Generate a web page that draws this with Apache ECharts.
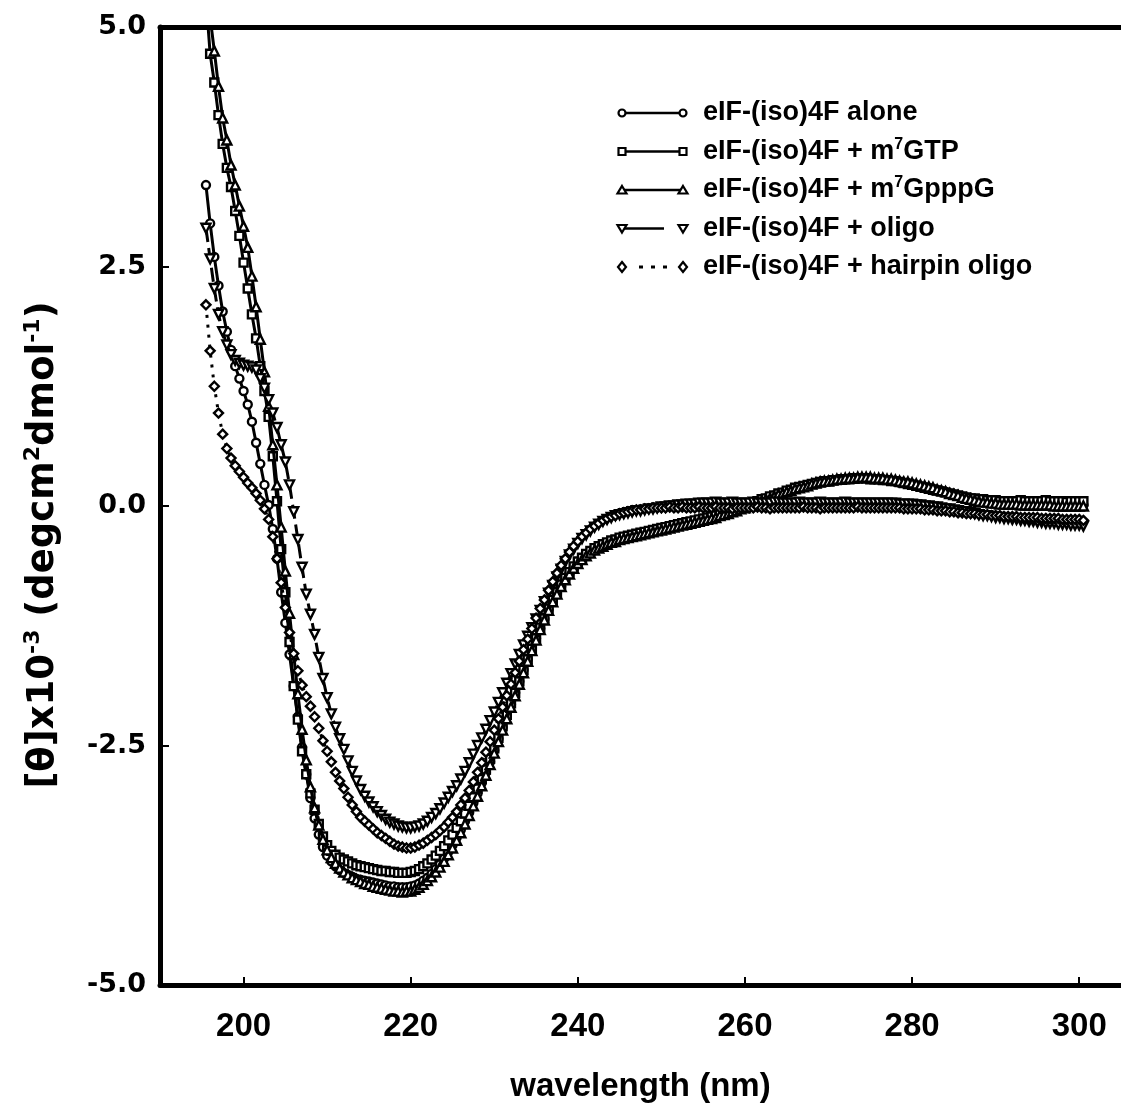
<!DOCTYPE html>
<html><head><meta charset="utf-8">
<script src="https://cdn.jsdelivr.net/npm/echarts@6/dist/echarts.min.js"></script>
<style>html,body{margin:0;padding:0;background:#fff}#chart{width:1121px;height:1118px}</style>
</head><body><div id="chart"></div>
<script>
// wavelength grid of the recorded spectra (nm)
const START_NM = 195.5, STEP_NM = 0.5;
const xTickValues = [200, 220, 240, 260, 280, 300];
const yTickValues = [-5, -2.5, 0, 2.5, 5];
const seriesNames = [
  'eIF-(iso)4F alone',
  'eIF-(iso)4F + m7GTP',
  'eIF-(iso)4F + m7GpppG',
  'eIF-(iso)4F + oligo',
  'eIF-(iso)4F + hairpin oligo'
];
// [θ]x10^-3 values, 195.5 .. 300.5 nm every 0.5 nm
const alone = [
 3.35,2.95,2.6,2.3,2.03,1.82,1.63,1.46,1.33,1.2,
 1.06,0.88,0.66,0.44,0.22,0.01,-0.24,-0.55,-0.9,-1.22,
 -1.55,-1.88,-2.2,-2.52,-2.8,-3.05,-3.26,-3.43,-3.56,-3.65,
 -3.71,-3.76,-3.8,-3.83,-3.85,-3.87,-3.89,-3.9,-3.91,-3.92,
 -3.93,-3.94,-3.95,-3.96,-3.97,-3.97,-3.98,-3.98,-3.98,-3.97,
 -3.96,-3.94,-3.91,-3.88,-3.84,-3.79,-3.74,-3.68,-3.61,-3.54,
 -3.46,-3.38,-3.29,-3.2,-3.1,-3.0,-2.89,-2.78,-2.67,-2.55,
 -2.43,-2.31,-2.19,-2.07,-1.95,-1.83,-1.71,-1.6,-1.49,-1.38,
 -1.28,-1.18,-1.08,-0.99,-0.91,-0.84,-0.77,-0.71,-0.65,-0.6,
 -0.56,-0.52,-0.48,-0.45,-0.43,-0.41,-0.39,-0.37,-0.36,-0.34,
 -0.33,-0.32,-0.31,-0.3,-0.29,-0.28,-0.27,-0.26,-0.25,-0.24,
 -0.23,-0.22,-0.21,-0.2,-0.19,-0.18,-0.17,-0.16,-0.15,-0.14,
 -0.13,-0.12,-0.11,-0.09,-0.08,-0.07,-0.05,-0.04,-0.02,-0.01,
 0.01,0.03,0.04,0.06,0.08,0.09,0.11,0.12,0.14,0.15,
 0.17,0.18,0.19,0.2,0.22,0.23,0.24,0.25,0.25,0.26,
 0.27,0.27,0.28,0.28,0.29,0.29,0.29,0.29,0.29,0.29,
 0.28,0.28,0.28,0.27,0.27,0.26,0.25,0.24,0.24,0.23,
 0.22,0.21,0.2,0.19,0.18,0.17,0.16,0.15,0.13,0.12,
 0.11,0.1,0.09,0.08,0.07,0.06,0.05,0.05,0.04,0.04,
 0.03,0.03,0.03,0.03,0.02,0.02,0.02,0.02,0.02,0.02,
 0.02,0.02,0.02,0.02,0.01,0.01,0.01,0.01,0.01,0.01,
 0.01
];
const m7GTP = [
 5.3,4.72,4.42,4.08,3.78,3.53,3.33,3.08,2.82,2.54,
 2.27,2.0,1.75,1.46,1.2,0.93,0.52,0.05,-0.45,-0.9,
 -1.42,-1.88,-2.23,-2.56,-2.8,-3.0,-3.17,-3.32,-3.45,-3.54,
 -3.6,-3.64,-3.67,-3.69,-3.71,-3.73,-3.75,-3.76,-3.77,-3.78,
 -3.79,-3.8,-3.81,-3.81,-3.82,-3.82,-3.83,-3.83,-3.83,-3.82,
 -3.81,-3.79,-3.76,-3.73,-3.69,-3.65,-3.6,-3.55,-3.49,-3.43,
 -3.36,-3.29,-3.21,-3.13,-3.04,-2.95,-2.85,-2.75,-2.64,-2.53,
 -2.42,-2.3,-2.18,-2.06,-1.95,-1.83,-1.71,-1.6,-1.49,-1.38,
 -1.27,-1.17,-1.07,-0.98,-0.9,-0.82,-0.75,-0.69,-0.63,-0.58,
 -0.54,-0.5,-0.47,-0.44,-0.42,-0.4,-0.38,-0.36,-0.35,-0.33,
 -0.32,-0.31,-0.3,-0.29,-0.28,-0.27,-0.26,-0.25,-0.24,-0.23,
 -0.22,-0.21,-0.2,-0.19,-0.18,-0.17,-0.16,-0.15,-0.14,-0.13,
 -0.12,-0.11,-0.1,-0.08,-0.07,-0.06,-0.04,-0.03,-0.01,0.0,
 0.02,0.04,0.05,0.07,0.08,0.1,0.11,0.13,0.14,0.16,
 0.17,0.19,0.2,0.21,0.22,0.23,0.24,0.25,0.26,0.26,
 0.27,0.27,0.28,0.28,0.28,0.29,0.29,0.29,0.29,0.28,
 0.28,0.28,0.27,0.27,0.26,0.26,0.25,0.24,0.23,0.22,
 0.21,0.2,0.19,0.18,0.17,0.16,0.15,0.14,0.13,0.12,
 0.11,0.1,0.09,0.08,0.08,0.07,0.07,0.06,0.06,0.06,
 0.05,0.05,0.05,0.05,0.05,0.06,0.05,0.05,0.05,0.05,
 0.05,0.06,0.05,0.05,0.05,0.05,0.04,0.05,0.05,0.05,
 0.05
];
const m7GpppG = [
 5.5,5.1,4.75,4.38,4.05,3.82,3.56,3.35,3.13,2.92,
 2.7,2.4,2.08,1.74,1.4,1.04,0.64,0.22,-0.22,-0.68,
 -1.12,-1.55,-1.96,-2.33,-2.65,-2.93,-3.15,-3.33,-3.48,-3.59,
 -3.67,-3.73,-3.78,-3.82,-3.85,-3.88,-3.9,-3.92,-3.94,-3.95,
 -3.97,-3.98,-3.99,-4.0,-4.01,-4.02,-4.02,-4.03,-4.02,-4.02,
 -4.0,-3.98,-3.95,-3.91,-3.87,-3.82,-3.77,-3.71,-3.64,-3.57,
 -3.49,-3.41,-3.32,-3.23,-3.13,-3.03,-2.92,-2.81,-2.7,-2.58,
 -2.46,-2.34,-2.22,-2.1,-1.98,-1.86,-1.74,-1.62,-1.51,-1.4,
 -1.29,-1.19,-1.09,-1.0,-0.92,-0.84,-0.77,-0.71,-0.65,-0.6,
 -0.56,-0.52,-0.49,-0.46,-0.44,-0.42,-0.4,-0.38,-0.37,-0.35,
 -0.34,-0.33,-0.32,-0.31,-0.3,-0.29,-0.28,-0.27,-0.26,-0.25,
 -0.24,-0.23,-0.22,-0.21,-0.2,-0.19,-0.18,-0.17,-0.16,-0.15,
 -0.14,-0.13,-0.12,-0.1,-0.09,-0.08,-0.06,-0.05,-0.03,-0.02,
 0.0,0.02,0.03,0.05,0.07,0.08,0.1,0.12,0.13,0.15,
 0.16,0.18,0.19,0.2,0.21,0.23,0.24,0.25,0.26,0.26,
 0.27,0.28,0.28,0.29,0.29,0.29,0.3,0.3,0.3,0.3,
 0.29,0.29,0.29,0.28,0.28,0.27,0.26,0.25,0.25,0.24,
 0.23,0.22,0.21,0.2,0.19,0.17,0.16,0.15,0.13,0.12,
 0.11,0.09,0.08,0.07,0.06,0.05,0.04,0.04,0.03,0.03,
 0.02,0.02,0.02,0.02,0.02,0.01,0.01,0.01,0.01,0.01,
 0.01,0.01,0.01,0.0,0.0,0.0,0.0,0.0,0.0,0.0,
 0.0
];
const oligo = [
 2.9,2.58,2.27,2.0,1.82,1.68,1.58,1.52,1.49,1.47,
 1.46,1.45,1.42,1.33,1.23,1.11,0.97,0.82,0.64,0.46,
 0.22,-0.06,-0.35,-0.64,-0.92,-1.13,-1.34,-1.58,-1.8,-2.0,
 -2.17,-2.31,-2.43,-2.54,-2.66,-2.77,-2.87,-2.96,-3.03,-3.09,
 -3.14,-3.19,-3.23,-3.27,-3.3,-3.32,-3.34,-3.35,-3.36,-3.36,
 -3.35,-3.34,-3.32,-3.29,-3.25,-3.21,-3.16,-3.1,-3.04,-2.98,
 -2.92,-2.85,-2.77,-2.68,-2.59,-2.5,-2.42,-2.33,-2.24,-2.15,
 -2.05,-1.95,-1.85,-1.75,-1.65,-1.55,-1.45,-1.36,-1.27,-1.18,
 -1.09,-1.0,-0.91,-0.83,-0.74,-0.66,-0.58,-0.51,-0.45,-0.39,
 -0.34,-0.3,-0.26,-0.22,-0.19,-0.16,-0.14,-0.12,-0.1,-0.09,
 -0.08,-0.07,-0.06,-0.05,-0.05,-0.04,-0.03,-0.03,-0.02,-0.01,
 -0.01,0.0,0.0,0.01,0.01,0.02,0.02,0.02,0.03,0.03,
 0.03,0.03,0.04,0.03,0.03,0.03,0.04,0.03,0.03,0.03,
 0.03,0.04,0.03,0.03,0.03,0.03,0.04,0.04,0.03,0.03,
 0.03,0.03,0.04,0.03,0.03,0.03,0.03,0.04,0.03,0.03,
 0.03,0.03,0.03,0.04,0.03,0.03,0.03,0.03,0.03,0.03,
 0.03,0.03,0.03,0.03,0.03,0.03,0.02,0.02,0.02,0.02,
 0.01,0.01,0.0,0.0,-0.01,-0.01,-0.02,-0.03,-0.03,-0.04,
 -0.05,-0.06,-0.06,-0.07,-0.08,-0.09,-0.1,-0.1,-0.11,-0.12,
 -0.12,-0.13,-0.13,-0.14,-0.14,-0.15,-0.15,-0.16,-0.16,-0.17,
 -0.17,-0.18,-0.18,-0.18,-0.19,-0.19,-0.19,-0.2,-0.2,-0.2,
 -0.21
];
const hairpin = [
 2.1,1.62,1.25,0.97,0.75,0.6,0.5,0.42,0.36,0.3,
 0.24,0.19,0.13,0.06,-0.03,-0.14,-0.32,-0.55,-0.8,-1.06,
 -1.32,-1.54,-1.72,-1.87,-1.99,-2.09,-2.2,-2.32,-2.45,-2.56,
 -2.67,-2.78,-2.87,-2.95,-3.04,-3.12,-3.19,-3.25,-3.29,-3.33,
 -3.37,-3.41,-3.44,-3.47,-3.5,-3.53,-3.55,-3.56,-3.57,-3.57,
 -3.56,-3.54,-3.52,-3.49,-3.46,-3.43,-3.39,-3.35,-3.3,-3.25,
 -3.19,-3.12,-3.05,-2.97,-2.88,-2.78,-2.68,-2.57,-2.46,-2.34,
 -2.22,-2.1,-1.98,-1.86,-1.74,-1.62,-1.5,-1.39,-1.28,-1.17,
 -1.07,-0.98,-0.88,-0.79,-0.7,-0.62,-0.55,-0.48,-0.42,-0.37,
 -0.32,-0.28,-0.24,-0.21,-0.18,-0.15,-0.13,-0.11,-0.1,-0.08,
 -0.07,-0.06,-0.05,-0.04,-0.04,-0.03,-0.03,-0.02,-0.02,-0.02,
 -0.02,-0.01,-0.02,-0.02,-0.01,-0.02,-0.02,-0.02,-0.01,-0.02,
 -0.02,-0.02,-0.01,-0.02,-0.02,-0.02,-0.03,-0.02,-0.02,-0.02,
 -0.02,-0.02,-0.01,-0.02,-0.02,-0.03,-0.02,-0.02,-0.02,-0.02,
 -0.02,-0.02,-0.02,-0.01,-0.02,-0.02,-0.02,-0.03,-0.02,-0.02,
 -0.02,-0.02,-0.02,-0.02,-0.02,-0.02,-0.01,-0.02,-0.02,-0.02,
 -0.02,-0.02,-0.02,-0.02,-0.02,-0.02,-0.02,-0.03,-0.03,-0.03,
 -0.03,-0.03,-0.04,-0.04,-0.04,-0.05,-0.05,-0.05,-0.06,-0.06,
 -0.07,-0.07,-0.08,-0.08,-0.08,-0.09,-0.09,-0.09,-0.1,-0.1,
 -0.1,-0.11,-0.11,-0.11,-0.11,-0.12,-0.12,-0.12,-0.12,-0.12,
 -0.13,-0.13,-0.13,-0.13,-0.13,-0.14,-0.14,-0.14,-0.14,-0.14,
 -0.15
];

const seriesValues = [alone, m7GTP, m7GpppG, oligo, hairpin];
const symbols = ['circle', 'rect', 'triangle', 'triangle', 'diamond'];
const symbolRot = [0, 0, 0, 180, 0];
const symbolSizes = [8, 8, 9, 9, 9];
const lineTypes = ['solid', 'solid', 'solid', [14, 6], [3, 7]];

const toPairs = vals => vals.map((v, i) => [START_NM + i * STEP_NM, v]);

const chart = echarts.init(document.getElementById('chart'), null, {renderer: 'canvas'});
const FONT = 'Liberation Sans, Arial, sans-serif';
const FONT_Y = 'DejaVu Sans, sans-serif';

const series = seriesValues.map((vals, k) => ({
  type: 'line',
  name: seriesNames[k],
  data: toPairs(vals),
  symbol: symbols[k],
  symbolRotate: symbolRot[k],
  symbolSize: symbolSizes[k],
  showSymbol: true,
  clip: true,
  lineStyle: {color: '#000', width: 3, type: lineTypes[k]},
  itemStyle: {color: '#fff', borderColor: '#000', borderWidth: 2.4},
  emphasis: {disabled: true},
  z: 2 + k
}));

// legend drawn as graphic
const legendRows = [
  {text: 'eIF-(iso)4F alone', sym: 'circle', dash: null},
  {text: 'eIF-(iso)4F + m{sup|7}GTP', sym: 'rect', dash: null},
  {text: 'eIF-(iso)4F + m{sup|7}GpppG', sym: 'triangle', dash: null},
  {text: 'eIF-(iso)4F + oligo', sym: 'itriangle', dash: 'oligo'},
  {text: 'eIF-(iso)4F + hairpin oligo', sym: 'diamond', dash: 'dot'}
];
const graphics = [];
function marker(type, cx, cy) {
  const st = {fill: '#fff', stroke: '#000', lineWidth: 2.2};
  if (type === 'circle') return {type: 'circle', shape: {cx, cy, r: 3.5}, style: st, z: 10};
  if (type === 'rect') return {type: 'rect', shape: {x: cx - 3.5, y: cy - 3.5, width: 7, height: 7}, style: st, z: 10};
  if (type === 'triangle') return {type: 'polygon', shape: {points: [[cx, cy - 4], [cx + 4.5, cy + 3.5], [cx - 4.5, cy + 3.5]]}, style: st, z: 10};
  if (type === 'itriangle') return {type: 'polygon', shape: {points: [[cx, cy + 4], [cx + 4.5, cy - 3.5], [cx - 4.5, cy - 3.5]]}, style: st, z: 10};
  return {type: 'polygon', shape: {points: [[cx, cy - 5], [cx + 4, cy], [cx, cy + 5], [cx - 4, cy]]}, style: st, z: 10};
}
legendRows.forEach((r, i) => {
  const y = 113 + i * 38.5;
  const x1 = 622, x2 = 683;
  if (r.dash === 'oligo') {
    graphics.push({type: 'line', shape: {x1, y1: y, x2: 664, y2: y}, style: {stroke: '#000', lineWidth: 2.5}, z: 9});
  } else if (r.dash === 'dot') {
    [641, 653, 665].forEach(dx => graphics.push({type: 'rect', shape: {x: dx - 2, y: y - 1.5, width: 4, height: 3}, style: {fill: '#000'}, z: 9}));
  } else {
    graphics.push({type: 'line', shape: {x1, y1: y, x2, y2: y}, style: {stroke: '#000', lineWidth: 2.5}, z: 9});
  }
  graphics.push(marker(r.sym, x1, y));
  graphics.push(marker(r.sym, x2, y));
  graphics.push({
    type: 'text', x: 703, y: y, z: 10,
    style: {
      text: r.text, fill: '#000', fontFamily: FONT, fontSize: 27, fontWeight: 'bold',
      verticalAlign: 'middle', lineHeight: 30,
      rich: {sup: {fontSize: 16, fontWeight: 'bold', fontFamily: FONT, lineHeight: 15, verticalAlign: 'top', fill: '#000'}}
    }
  });
});
// y-axis title (rotated)
graphics.push({
  type: 'text', x: 43, y: 545, rotation: Math.PI / 2, z: 10,
  style: {
    text: '[θ]x10{sup|-3} (degcm{sup|2}dmol{sup|-1})', fill: '#000',
    fontFamily: FONT_Y, fontSize: 37, fontWeight: 'bold', align: 'center', verticalAlign: 'middle', lineHeight: 42,
    rich: {sup: {fontFamily: FONT_Y, fontWeight: 'bold', fontSize: 22, lineHeight: 20, verticalAlign: 'top', fill: '#000'}}
  }
});

chart.setOption({
  animation: false,
  backgroundColor: '#fff',
  grid: {left: 160, right: -3, top: 27, bottom: 133, containLabel: false},
  xAxis: [{
    type: 'value', min: 190, max: 305, position: 'bottom',
    axisLine: {show: true, onZero: false, lineStyle: {color: '#000', width: 5}},
    axisTick: {show: true, inside: true, length: 8, customValues: xTickValues, lineStyle: {color: '#000', width: 2}},
    axisLabel: {show: true, customValues: xTickValues, margin: 25, color: '#000', fontFamily: FONT, fontWeight: 'bold', fontSize: 33},
    splitLine: {show: false},
    name: 'wavelength (nm)', nameLocation: 'middle', nameGap: 85,
    nameTextStyle: {color: '#000', fontFamily: FONT, fontWeight: 'bold', fontSize: 33}
  }, {
    type: 'value', min: 190, max: 305, position: 'top',
    axisLine: {show: true, onZero: false, lineStyle: {color: '#000', width: 5}},
    axisTick: {show: false}, axisLabel: {show: false}, splitLine: {show: false}
  }],
  yAxis: {
    type: 'value', min: -5, max: 5, interval: 2.5,
    axisLine: {show: true, onZero: false, lineStyle: {color: '#000', width: 5}},
    axisTick: {show: true, inside: true, length: 9, lineStyle: {color: '#000', width: 2}},
    axisLabel: {margin: 14, padding: [5, 0, 0, 0], color: '#000', fontFamily: FONT_Y, fontWeight: 'bold', fontSize: 27, formatter: v => v.toFixed(1)},
    splitLine: {show: false}
  },
  series: series,
  graphic: graphics
});
</script>
</body></html>
